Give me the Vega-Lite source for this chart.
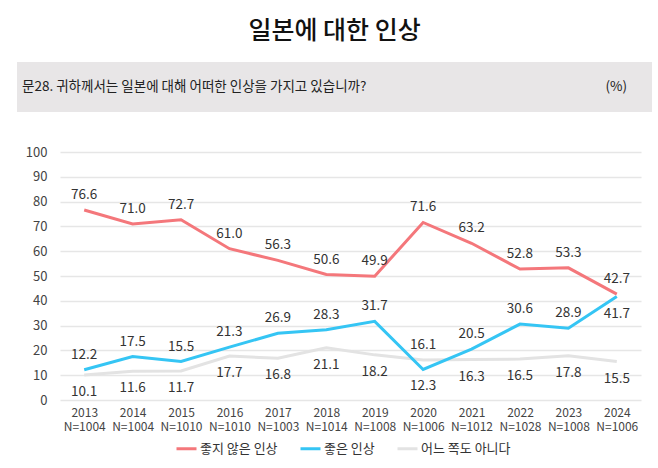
{
  "$schema": "https://vega.github.io/schema/vega-lite/v6.json",
  "background": "white",
  "padding": {"left": 17, "right": 6, "top": 19, "bottom": 4},
  "title": {"text": "일본에 대한 인상", "fontSize": 25, "font": "Noto Sans CJK KR", "fontWeight": 500, "color": "#111111", "anchor": "middle", "offset": 18},
  "config": {"font": "Noto Sans CJK KR", "view": {"stroke": null}},
  "datasets": {
    "survey": [
      {"period": "2013 N=1004", "series": "어느 쪽도 아니다", "value": 10.1},
      {"period": "2014 N=1004", "series": "어느 쪽도 아니다", "value": 11.6},
      {"period": "2015 N=1010", "series": "어느 쪽도 아니다", "value": 11.7},
      {"period": "2016 N=1010", "series": "어느 쪽도 아니다", "value": 17.7},
      {"period": "2017 N=1003", "series": "어느 쪽도 아니다", "value": 16.8},
      {"period": "2018 N=1014", "series": "어느 쪽도 아니다", "value": 21.1},
      {"period": "2019 N=1008", "series": "어느 쪽도 아니다", "value": 18.2},
      {"period": "2020 N=1006", "series": "어느 쪽도 아니다", "value": 16.1},
      {"period": "2021 N=1012", "series": "어느 쪽도 아니다", "value": 16.3},
      {"period": "2022 N=1028", "series": "어느 쪽도 아니다", "value": 16.5},
      {"period": "2023 N=1008", "series": "어느 쪽도 아니다", "value": 17.8},
      {"period": "2024 N=1006", "series": "어느 쪽도 아니다", "value": 15.5},
      {"period": "2013 N=1004", "series": "좋은 인상", "value": 12.2},
      {"period": "2014 N=1004", "series": "좋은 인상", "value": 17.5},
      {"period": "2015 N=1010", "series": "좋은 인상", "value": 15.5},
      {"period": "2016 N=1010", "series": "좋은 인상", "value": 21.3},
      {"period": "2017 N=1003", "series": "좋은 인상", "value": 26.9},
      {"period": "2018 N=1014", "series": "좋은 인상", "value": 28.3},
      {"period": "2019 N=1008", "series": "좋은 인상", "value": 31.7},
      {"period": "2020 N=1006", "series": "좋은 인상", "value": 12.3},
      {"period": "2021 N=1012", "series": "좋은 인상", "value": 20.5},
      {"period": "2022 N=1028", "series": "좋은 인상", "value": 30.6},
      {"period": "2023 N=1008", "series": "좋은 인상", "value": 28.9},
      {"period": "2024 N=1006", "series": "좋은 인상", "value": 41.7},
      {"period": "2013 N=1004", "series": "좋지 않은 인상", "value": 76.6},
      {"period": "2014 N=1004", "series": "좋지 않은 인상", "value": 71.0},
      {"period": "2015 N=1010", "series": "좋지 않은 인상", "value": 72.7},
      {"period": "2016 N=1010", "series": "좋지 않은 인상", "value": 61.0},
      {"period": "2017 N=1003", "series": "좋지 않은 인상", "value": 56.3},
      {"period": "2018 N=1014", "series": "좋지 않은 인상", "value": 50.6},
      {"period": "2019 N=1008", "series": "좋지 않은 인상", "value": 49.9},
      {"period": "2020 N=1006", "series": "좋지 않은 인상", "value": 71.6},
      {"period": "2021 N=1012", "series": "좋지 않은 인상", "value": 63.2},
      {"period": "2022 N=1028", "series": "좋지 않은 인상", "value": 52.8},
      {"period": "2023 N=1008", "series": "좋지 않은 인상", "value": 53.3},
      {"period": "2024 N=1006", "series": "좋지 않은 인상", "value": 42.7}
    ]
  },
  "columns": 1,
  "spacing": 34,
  "concat": [
    {
      "width": 581,
      "height": 50,
      "data": {"values": [{"question": "문28. 귀하께서는 일본에 대해 어떠한 인상을 가지고 있습니까?", "unit": "(%)"}]},
      "layer": [
        {
          "mark": {"type": "rect", "color": "#e8e6e7"},
          "encoding": {
            "x": {"datum": -0.074, "type": "quantitative", "scale": {"domain": [0, 1]}, "axis": null},
            "x2": {"datum": 1.019},
            "y": {"datum": 0, "type": "quantitative", "scale": {"domain": [0, 1]}, "axis": null},
            "y2": {"datum": 1}
          }
        },
        {
          "mark": {"type": "text", "align": "left", "baseline": "middle", "fontSize": 13.5, "color": "#222222", "dx": 5},
          "encoding": {
            "x": {"datum": -0.074, "type": "quantitative"},
            "text": {"field": "question"}
          }
        },
        {
          "mark": {"type": "text", "align": "right", "baseline": "middle", "fontSize": 13.5, "color": "#222222", "dx": -25},
          "encoding": {
            "x": {"datum": 1.019, "type": "quantitative"},
            "text": {"field": "unit"}
          }
        }
      ]
    },
    {
      "width": 581,
      "height": 248,
      "data": {"name": "survey"},
      "encoding": {
        "x": {
          "field": "period", "type": "ordinal", "sort": null,
          "scale": {"type": "point", "padding": 0.5},
          "axis": {"title": null, "domain": false, "ticks": false, "labelAngle": 0, "labelExpr": "split(datum.value, ' ')", "labelFontSize": 12, "labelColor": "#444444", "labelPadding": 7, "labelLineHeight": 14}
        },
        "y": {
          "field": "value", "type": "quantitative",
          "scale": {"domain": [0, 100]},
          "axis": {"title": null, "values": [0, 10, 20, 30, 40, 50, 60, 70, 80, 90, 100], "grid": true, "gridColor": "#e6e6e6", "gridWidth": 1.5, "domain": false, "ticks": false, "labelPadding": 13, "labelFontSize": 13, "labelColor": "#444444", "minExtent": 43}
        }
      },
      "layer": [
        {
          "mark": {"type": "line", "strokeWidth": 3},
          "encoding": {
            "color": {
              "field": "series", "type": "nominal",
              "scale": {"domain": ["좋지 않은 인상", "좋은 인상", "어느 쪽도 아니다"], "range": ["#f4777b", "#35c5f4", "#e3e3e3"]},
              "legend": {"orient": "none", "legendX": 115, "legendY": 375, "direction": "horizontal", "title": null, "symbolType": "stroke", "symbolStrokeWidth": 3, "symbolSize": 400, "labelFontSize": 13, "labelColor": "#333333", "labelOffset": 2, "columnPadding": 16}
            }
          }
        },
        {
          "transform": [{"filter": "datum.series === '좋지 않은 인상' || (datum.series === '좋은 인상' && datum.period !== '2020 N=1006' && datum.period !== '2024 N=1006') || (datum.series === '어느 쪽도 아니다' && datum.period === '2020 N=1006')"}],
          "mark": {"type": "text", "dy": -15, "fontSize": 13.5, "color": "#333333"},
          "encoding": {"text": {"field": "value", "type": "quantitative", "format": ".1f"}}
        },
        {
          "transform": [{"filter": "!(datum.series === '좋지 않은 인상' || (datum.series === '좋은 인상' && datum.period !== '2020 N=1006' && datum.period !== '2024 N=1006') || (datum.series === '어느 쪽도 아니다' && datum.period === '2020 N=1006'))"}],
          "mark": {"type": "text", "dy": 17, "fontSize": 13.5, "color": "#333333"},
          "encoding": {"text": {"field": "value", "type": "quantitative", "format": ".1f"}}
        }
      ]
    }
  ]
}
